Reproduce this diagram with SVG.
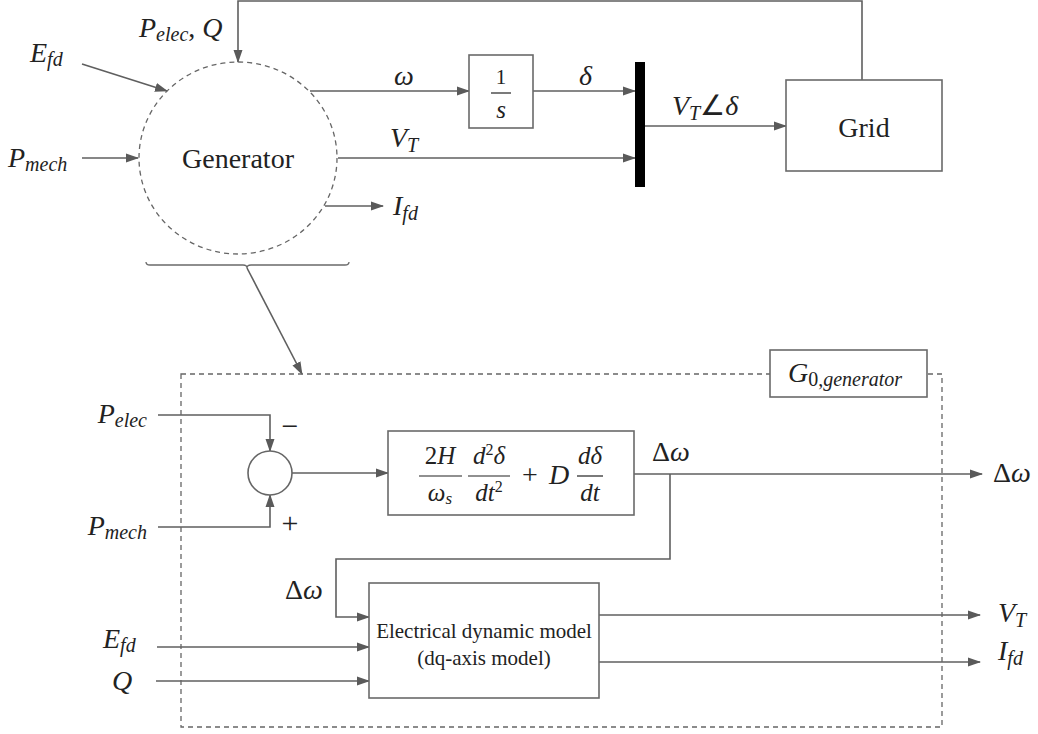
<svg xmlns="http://www.w3.org/2000/svg" width="1038" height="734" viewBox="0 0 1038 734">
<defs>
<style>
.ln{fill:none;stroke:#5f5f5f;stroke-width:1.6}
.ar{marker-end:url(#ah)}
.box{fill:#fff;stroke:#6a6a6a;stroke-width:1.6}
.dash{fill:none;stroke:#666;stroke-width:1.3;stroke-dasharray:5,4}
.t{font-family:"Liberation Serif","Times New Roman",serif;fill:#222}
.m{font-family:"Liberation Serif","Times New Roman",serif;font-style:italic;fill:#222;font-size:28px}
.up{font-style:normal}
.sub{font-size:20px}
</style>
<marker id="ah" markerWidth="13" markerHeight="10" refX="12" refY="5" orient="auto" markerUnits="userSpaceOnUse">
<path d="M0,0.5 L13,5 L0,9.5 z" fill="#5a5a5a"/>
</marker>
</defs>
<rect width="1038" height="734" fill="#fff"/>

<g id="connectors">
<path class="ln ar" d="M862,80 V1 H238 V62"/>
<path class="ln ar" d="M82,64 L167,91"/>
<path class="ln ar" d="M82,158 L138,158"/>
<path class="ln ar" d="M310,91 L469,91"/>
<path class="ln ar" d="M533,91 L635,91"/>
<path class="ln ar" d="M338,158 L635,158"/>
<path class="ln ar" d="M325,206 L383,206"/>
<path class="ln ar" d="M645,126 L786,126"/>
<path class="ln ar" d="M247,268 L302,374"/>
<path class="ln ar" d="M158,415 H270 V451"/>
<path class="ln ar" d="M158,527 H270 V495"/>
<path class="ln ar" d="M292,473 H388"/>
<path class="ln ar" d="M634,474 H982"/>
<path class="ln ar" d="M670,474 V559 H336 V617 H369"/>
<path class="ln ar" d="M157,647 H369"/>
<path class="ln ar" d="M156,681 H369"/>
<path class="ln ar" d="M599,615 H980"/>
<path class="ln ar" d="M599,662 H980"/>
</g>

<g id="labels-top">
<text class="m" x="139" y="37">P<tspan class="sub" dy="4">elec</tspan><tspan class="up" dy="-4">, </tspan>Q</text>
<text class="m" x="30" y="62">E<tspan class="sub" dy="4">fd</tspan></text>
<text class="m" x="8" y="167">P<tspan class="sub" dy="4">mech</tspan></text>
<text class="m" x="394" y="85">ω</text>
<text class="m" x="579" y="85">δ</text>
<text class="m" x="390" y="147">V<tspan class="sub" dy="5">T</tspan></text>
<text class="m" x="393" y="215">I<tspan class="sub" dy="5">fd</tspan></text>
<text class="m" x="672" y="115">V<tspan class="sub" dy="5">T</tspan><tspan class="up" dy="-5">∠</tspan>δ</text>
</g>

<g id="generator">
<ellipse class="dash" cx="238" cy="158" rx="99" ry="96"/>
<text class="t" x="238" y="168" font-size="28" text-anchor="middle">Generator</text>
</g>

<g id="integrator">
<rect class="box" x="469" y="55" width="64" height="73"/>
<text class="t" x="501" y="84" font-size="21" text-anchor="middle">1</text>
<line x1="491" y1="93" x2="511" y2="93" stroke="#222" stroke-width="1.2"/>
<text class="m" x="501" y="118" style="font-size:25px" text-anchor="middle">s</text>
</g>

<g id="bus">
<rect x="635" y="62" width="10" height="125" fill="#000"/>
</g>

<g id="grid">
<rect class="box" x="786" y="80" width="156" height="91"/>
<text class="t" x="864" y="137" font-size="28" text-anchor="middle">Grid</text>
</g>

<g id="brace">
<path d="M146,262 Q146,265 150,265 H243 Q247,265 247,268 Q247,265 251,265 H345 Q349,265 349,262" fill="none" stroke="#6a6a6a" stroke-width="1.3"/>
</g>

<g id="g0-box">
<rect class="dash" x="181" y="374" width="761" height="353"/>
<rect class="box" x="770" y="350" width="157" height="47"/>
<text class="m" x="788" y="382">G<tspan class="sub" dy="4"><tspan class="up">0,</tspan>generator</tspan></text>
</g>

<g id="sum">
<circle cx="270" cy="473" r="22" fill="#fff" stroke="#666" stroke-width="1.6"/>
<text class="t" x="290" y="436" font-size="30" text-anchor="middle">−</text>
<text class="t" x="290" y="533" font-size="30" text-anchor="middle">+</text>
</g>

<g id="labels-bottom">
<text class="m" x="147" y="423" text-anchor="end">P<tspan class="sub" dy="4">elec</tspan></text>
<text class="m" x="147" y="535" text-anchor="end">P<tspan class="sub" dy="4">mech</tspan></text>
<text class="m" x="652" y="461"><tspan class="up">Δ</tspan>ω</text>
<text class="m" x="993" y="482"><tspan class="up">Δ</tspan>ω</text>
<text class="m" x="285" y="599"><tspan class="up">Δ</tspan>ω</text>
<text class="m" x="103" y="648">E<tspan class="sub" dy="4">fd</tspan></text>
<text class="m" x="112" y="690">Q</text>
<text class="m" x="998" y="622">V<tspan class="sub" dy="5">T</tspan></text>
<text class="m" x="998" y="660">I<tspan class="sub" dy="5">fd</tspan></text>
</g>

<g id="swing">
<rect class="box" x="388" y="431" width="246" height="84"/>
<g class="t" font-size="25">
<text x="440" y="464" text-anchor="middle">2<tspan font-style="italic">H</tspan></text>
<line x1="419" y1="476" x2="462" y2="476" stroke="#222" stroke-width="1.2"/>
<text x="440" y="501" text-anchor="middle" font-style="italic">ω<tspan font-size="17" dy="3">s</tspan></text>
<text x="489" y="464" text-anchor="middle" font-style="italic">d<tspan font-style="normal" font-size="16" dy="-9">2</tspan><tspan dy="9">δ</tspan></text>
<line x1="468" y1="476" x2="510" y2="476" stroke="#222" stroke-width="1.2"/>
<text x="489" y="501" text-anchor="middle" font-style="italic">dt<tspan font-style="normal" font-size="16" dy="-9">2</tspan></text>
<text x="530" y="484" text-anchor="middle" font-size="28">+</text>
<text x="559" y="484" text-anchor="middle" font-style="italic" font-size="28">D</text>
<text x="590" y="464" text-anchor="middle" font-style="italic">dδ</text>
<line x1="577" y1="476" x2="603" y2="476" stroke="#222" stroke-width="1.2"/>
<text x="590" y="501" text-anchor="middle" font-style="italic">dt</text>
</g>
</g>

<g id="electrical">
<rect class="box" x="369" y="583" width="230" height="115"/>
<text class="t" x="484" y="638" font-size="21" text-anchor="middle">Electrical dynamic model</text>
<text class="t" x="484" y="665" font-size="21" text-anchor="middle">(dq-axis model)</text>
</g>
</svg>
